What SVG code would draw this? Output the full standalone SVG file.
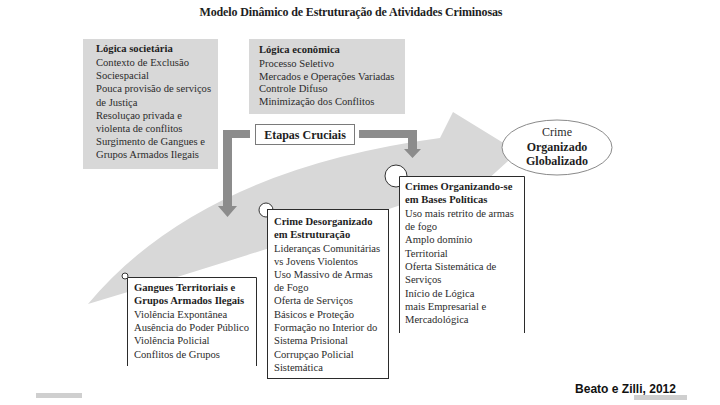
<svg xmlns="http://www.w3.org/2000/svg" width="720" height="405" viewBox="0 0 720 405">
<defs>
<style>
.t{font-family:"Liberation Serif","Times New Roman",serif;font-size:10.6px;fill:#2b2b2b}
.b{font-weight:bold;fill:#1e1e1e}
.gray{fill:#d8d8d8}
.box{fill:#fff;stroke:#2b2b2b;stroke-width:1}
.open{fill:none;stroke:#2b2b2b;stroke-width:1}
.dot{fill:#fff;stroke:#333;stroke-width:1}
.conn{fill:#8c8c8c}
</style>
</defs>
<rect width="720" height="405" fill="#fff"/>
<text x="351" y="16" text-anchor="middle" class="t b" style="font-size:12px" textLength="303">Modelo Dinâmico de Estruturação de Atividades Criminosas</text>

<g id="logica-societaria">
<rect x="83" y="39" width="135" height="130" class="gray"/>
<text class="t"><tspan x="96" y="52" class="b">Lógica societária</tspan><tspan x="96" y="66">Contexto de Exclusão</tspan><tspan x="96" y="79">Sociespacial</tspan><tspan x="96" y="92">Pouca provisão de serviços</tspan><tspan x="96" y="106">de Justiça</tspan><tspan x="96" y="119">Resoluçao privada e</tspan><tspan x="96" y="132">violenta de conflitos</tspan><tspan x="96" y="145">Surgimento de Gangues e</tspan><tspan x="96" y="158">Grupos Armados Ilegais</tspan></text>
</g>

<g id="logica-economica">
<rect x="249" y="39" width="156" height="75" class="gray"/>
<text class="t"><tspan x="259" y="53" class="b">Lógica econômica</tspan><tspan x="259" y="67">Processo Seletivo</tspan><tspan x="259" y="80">Mercados e Operações Variadas</tspan><tspan x="259" y="92">Controle Difuso</tspan><tspan x="259" y="105">Minimização dos Conflitos</tspan></text>
</g>

<g id="seta-principal">
<path class="gray" d="M88,304 Q200,170 440,138 L453,112 L518,152 L465,200 L460,185 Q270,250 88,304 Z"/>
</g>

<g id="connectors">
<path class="conn" d="M250,130 L223,130 L223,206 L218,206 L227.5,217 L237,206 L232,206 L232,138 L250,138 Z"/>
<path class="conn" d="M359,130 L417,130 L417,149 L421,149 L412.5,158 L404,149 L408,149 L408,138 L359,138 Z"/>
</g>

<g id="etapas-cruciais">
<rect x="255.5" y="124.5" width="99" height="20" fill="#fff" stroke="#7a7a7a" stroke-width="1"/>
<text x="305" y="139" text-anchor="middle" class="t b" style="font-size:12px">Etapas Cruciais</text>
</g>

<g id="marcadores">
<circle cx="125" cy="276" r="3" class="dot"/>
<circle cx="266" cy="210" r="7" class="dot"/>
<circle cx="396" cy="176" r="11" class="dot"/>
</g>

<g id="gangues">
<rect x="127" y="277" width="130" height="95" fill="#fff"/>
<path class="open" d="M127.5,366 L127.5,277.5 L256.5,277.5 L256.5,366"/>
<text class="t"><tspan x="134" y="291" class="b">Gangues Territoriais e</tspan><tspan x="134" y="304" class="b">Grupos Armados Ilegais</tspan><tspan x="134" y="318">Violência Expontânea</tspan><tspan x="134" y="331">Ausência do Poder Público</tspan><tspan x="134" y="344">Violência Policial</tspan><tspan x="134" y="358">Conflitos de Grupos</tspan></text>
</g>

<g id="crime-desorganizado">
<rect x="267.5" y="209.5" width="121" height="169" class="box"/>
<text class="t"><tspan x="274" y="225" class="b">Crime Desorganizado</tspan><tspan x="274" y="238" class="b">em Estruturação</tspan><tspan x="274" y="252">Lideranças Comunitárias</tspan><tspan x="274" y="265">vs Jovens Violentos</tspan><tspan x="274" y="278">Uso Massivo de Armas</tspan><tspan x="274" y="291">de Fogo</tspan><tspan x="274" y="304">Oferta de Serviços</tspan><tspan x="274" y="318">Básicos e Proteção</tspan><tspan x="274" y="331">Formação no Interior do</tspan><tspan x="274" y="344">Sistema Prisional</tspan><tspan x="274" y="358">Corrupçao Policial</tspan><tspan x="274" y="371">Sistemática</tspan></text>
</g>

<g id="crimes-organizando">
<rect x="399" y="176" width="126" height="157" fill="#fff"/>
<path class="open" d="M399.5,333 L399.5,176.5 L524.5,176.5 L524.5,333"/>
<text class="t"><tspan x="405" y="190" class="b">Crimes Organizando-se</tspan><tspan x="405" y="203" class="b">em Bases Políticas</tspan><tspan x="405" y="217">Uso mais retrito de armas</tspan><tspan x="405" y="230">de fogo</tspan><tspan x="405" y="243">Amplo domínio</tspan><tspan x="405" y="257">Territorial</tspan><tspan x="405" y="270">Oferta Sistemática de</tspan><tspan x="405" y="283">Serviços</tspan><tspan x="405" y="297">Início de Lógica</tspan><tspan x="405" y="310">mais Empresarial e</tspan><tspan x="405" y="323">Mercadológica</tspan></text>
</g>

<g id="crime-globalizado">
<ellipse cx="557" cy="147.5" rx="55" ry="27.5" fill="#fff" stroke="#8a8a8a" stroke-width="1"/>
<text text-anchor="middle" class="t" style="font-size:12px"><tspan x="557" y="136">Crime</tspan><tspan x="557" y="151" class="b">Organizado</tspan><tspan x="557" y="165" class="b">Globalizado</tspan></text>
</g>

<rect x="36" y="393" width="46" height="5" fill="#cfcfcf"/>
<rect x="634" y="395" width="53" height="5" fill="#cfcfcf"/>
<text x="575" y="393" style="font-family:'Liberation Sans',Arial,sans-serif;font-size:13px;font-weight:bold;fill:#111" textLength="101" lengthAdjust="spacingAndGlyphs">Beato e Zilli, 2012</text>
</svg>
